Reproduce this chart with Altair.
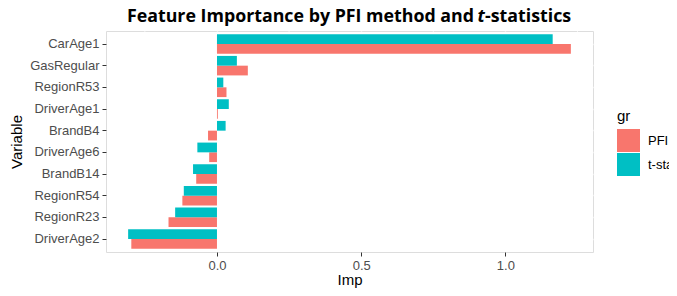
import altair as alt
import pandas as pd

variables = ["CarAge1", "GasRegular", "RegionR53", "DriverAge1", "BrandB4",
             "DriverAge6", "BrandB14", "RegionR54", "RegionR23", "DriverAge2"]
pfi = [1.227, 0.107, 0.033, 0.003, -0.031, -0.027, -0.072, -0.120, -0.168, -0.297]
tstat = [1.164, 0.069, 0.022, 0.041, 0.030, -0.068, -0.083, -0.115, -0.145, -0.308]
groups = ["PFI", "t-stat"]
colors = ["#F8766D", "#00BFC4"]
major_breaks = [0.0, 0.5, 1.0]
minor_breaks = [-0.25, 0.25, 0.75, 1.25]
title_parts = ["Feature Importance by PFI method and", "t", "-statistics"]

rows = []
for v, a, b in zip(variables, pfi, tstat):
    rows.append({"Variable": v, "gr": "PFI", "Imp": a})
    rows.append({"Variable": v, "gr": "t-stat", "Imp": b})
df = pd.DataFrame(rows)

lo = min(pfi + tstat)
hi = max(pfi + tstat)
pad = (hi - lo) * 0.05
xscale = alt.Scale(domain=[lo - pad, hi + pad], nice=False, zero=False)

axis_font = "Liberation Sans"
W, H = 487, 221

xaxis = alt.Axis(values=major_breaks, format=".1f", title="Imp",
                 labelFont=axis_font, labelFontSize=13, labelColor="#4D4D4D",
                 titleFont=axis_font, titleFontSize=15, titleFontWeight="normal",
                 titleColor="black", tickColor="#333333", tickSize=4,
                 domain=False, grid=True, gridColor="white", gridWidth=1.4,
                 labelPadding=3, titleX=W / 2, titleY=32.5,
                 titleBaseline="alphabetic", titleAlign="center")

minor = alt.Chart(pd.DataFrame({"Imp": minor_breaks})).mark_rule(
    color="white", strokeWidth=0.7
).encode(x=alt.X("Imp:Q", scale=xscale, axis=xaxis))

bars = alt.Chart(df).mark_bar().encode(
    x=alt.X("Imp:Q", scale=xscale, axis=xaxis),
    y=alt.Y("Variable:N", sort=variables,
            scale=alt.Scale(paddingInner=0.1, paddingOuter=0.15),
            axis=alt.Axis(title="Variable", labelFont=axis_font, labelFontSize=13,
                          labelColor="#4D4D4D", titleFont=axis_font,
                          titleFontSize=15, titleFontWeight="normal",
                          titleColor="black", tickColor="#333333", tickSize=4,
                          domain=False, grid=True, gridColor="white",
                          gridWidth=1.4, labelPadding=3,
                          titleX=-90, titleY=H / 2, titleAngle=270,
                          titleAlign="center", titleBaseline="middle")),
    yOffset=alt.YOffset("gr:N", sort=["t-stat", "PFI"],
                        scale=alt.Scale(paddingInner=0, paddingOuter=0)),
    color=alt.Color("gr:N", scale=alt.Scale(domain=groups, range=colors),
                    legend=alt.Legend(title="gr", orient="none", legendX=511,
                                      legendY=78, symbolType="square",
                                      symbolSize=529, symbolStrokeWidth=0,
                                      symbolOpacity=1,
                                      labelFont=axis_font, labelFontSize=13,
                                      labelColor="black", labelOffset=8,
                                      rowPadding=1, titleFont=axis_font,
                                      titleFontSize=15, titleFontWeight="normal",
                                      titleColor="black", titlePadding=5)),
)

ty = -9.5
tfont = "Open Sans"
tsize = 17.8
t1 = alt.Chart(pd.DataFrame({"s": [title_parts[0]]})).mark_text(
    font=tfont, fontSize=tsize, fontWeight="bold", align="right",
    baseline="alphabetic", color="black"
).encode(text="s:N", x=alt.value(368), y=alt.value(ty))
t2 = alt.Chart(pd.DataFrame({"s": [title_parts[1]]})).mark_text(
    font=tfont, fontSize=tsize, fontWeight="bold", fontStyle="italic",
    align="left", baseline="alphabetic", color="black"
).encode(text="s:N", x=alt.value(371.5), y=alt.value(ty))
t3 = alt.Chart(pd.DataFrame({"s": [title_parts[2]]})).mark_text(
    font=tfont, fontSize=tsize, fontWeight="bold", align="left",
    baseline="alphabetic", color="black"
).encode(text="s:N", x=alt.value(379), y=alt.value(ty))

chart = alt.layer(minor, bars, t1, t2, t3).properties(
    width=W, height=H,
    autosize=alt.AutoSizeParams(type="none"),
    padding={"left": 98, "top": 23, "right": 76, "bottom": 36},
).configure_view(fill="#EBEBEB", stroke=None).configure(background="white")

chart.save("out.html", embed_options={"renderer": "svg", "actions": False})
